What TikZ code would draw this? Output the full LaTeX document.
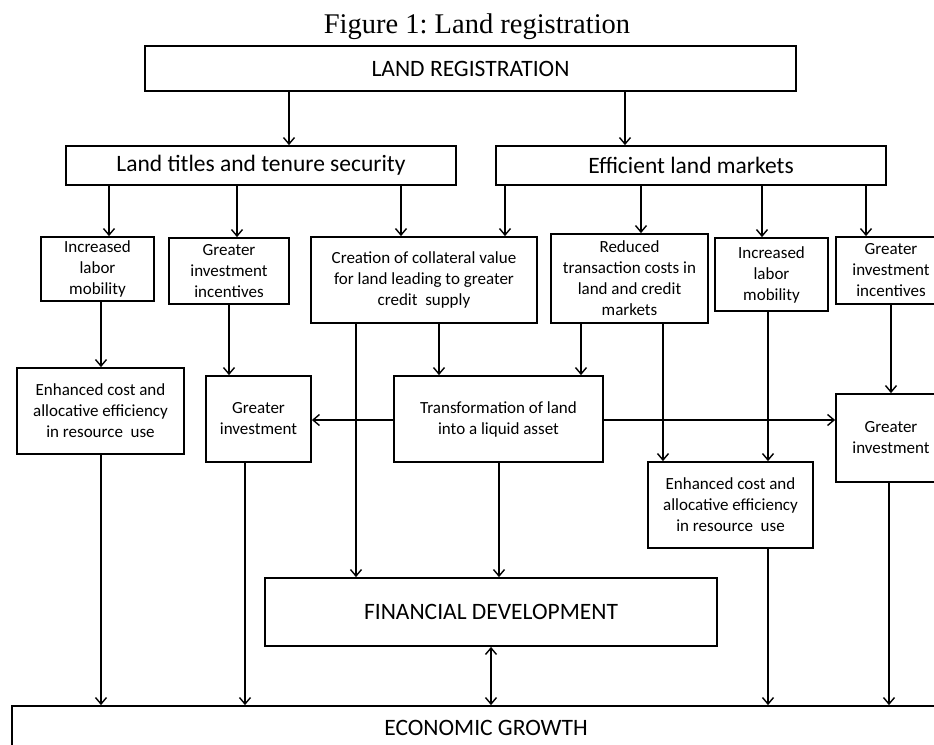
\documentclass[tikz,border=0pt]{standalone}
\usepackage{fontspec}
\setmainfont{Carlito}
\newfontfamily\titlefont{Liberation Serif}
\usetikzlibrary{arrows.meta}
\frenchspacing
\begin{document}
\begin{tikzpicture}[x=1pt,y=-1pt,
  box/.style={draw,line width=1.8pt,inner sep=0pt,align=center,
    font=\fontsize{17}{21}\selectfont},
  bigbox/.style={box,font=\fontsize{23.5}{28}\selectfont},
  arr/.style={line width=1.4pt,-{Straight Barb[length=6.5pt,width=11pt,line width=1.4pt]}},
  darr/.style={line width=1.4pt,{Straight Barb[length=6.5pt,width=11pt,line width=1.4pt]}-{Straight Barb[length=6.5pt,width=11pt,line width=1.4pt]}}]
\useasboundingbox (0,0) rectangle (934,744);
\clip (0,0) rectangle (934,744);
\fill[white] (0,0) rectangle (934,744);
\node[font=\titlefont\fontsize{28.5}{32}\selectfont] (title) at (477,27) {Figure 1: Land registration};
\node[bigbox,minimum width=651pt,minimum height=45pt] (lr) at (470.5,68.5) {LAND REGISTRATION};
\node[bigbox,minimum width=390pt,minimum height=39pt] (lt) at (261,165.5) {Land titles and tenure security};
\node[bigbox,minimum width=390pt,minimum height=39pt] (elm) at (691,165.5) {Efficient land markets};
\node[box,minimum width=113pt,minimum height=64pt] (ilm1) at (97.5,269) {Increased\\labor\\mobility};
\node[box,minimum width=120pt,minimum height=66pt] (gii1) at (229,271) {Greater\\investment\\incentives};
\node[box,minimum width=226pt,minimum height=86pt] (ccv) at (424,280) {Creation of collateral value\\for land leading to greater\\credit~ supply};
\node[box,minimum width=157pt,minimum height=89pt] (rtc) at (629.5,278.5) {Reduced\\transaction costs in\\land and credit\\markets};
\node[box,minimum width=113pt,minimum height=73pt] (ilm2) at (771.5,274.5) {Increased\\labor\\mobility};
\node[box,minimum width=110pt,minimum height=67pt] (gii2) at (891,270.5) {Greater\\investment\\incentives};
\node[box,minimum width=167pt,minimum height=86pt] (ec1) at (100.5,411) {Enhanced cost and\\allocative efficiency\\in resource~ use};
\node[box,minimum width=105pt,minimum height=86pt] (gi1) at (258.5,419) {Greater\\investment};
\node[box,minimum width=209pt,minimum height=86pt] (tla) at (498.5,419) {Transformation of land\\into a liquid asset};
\node[box,minimum width=110pt,minimum height=88pt] (gi2) at (891,438) {Greater\\investment};
\node[box,minimum width=165pt,minimum height=86pt] (ec2) at (730.5,505) {Enhanced cost and\\allocative efficiency\\in resource~ use};
\node[bigbox,minimum width=452pt,minimum height=68pt] (fd) at (491,612) {FINANCIAL DEVELOPMENT};
\node[bigbox,minimum width=948pt,minimum height=44pt] (eg) at (486,728) {ECONOMIC GROWTH};
% level 1 -> 2
\draw[arr] (289,0 |- lr.south) -- (289,0 |- lt.north);
\draw[arr] (625,0 |- lr.south) -- (625,0 |- elm.north);
% level 2 -> 3
\draw[arr] (109,0 |- lt.south) -- (109,0 |- ilm1.north);
\draw[arr] (237,0 |- lt.south) -- (237,0 |- gii1.north);
\draw[arr] (401,0 |- lt.south) -- (401,0 |- ccv.north);
\draw[arr] (505,0 |- elm.south) -- (505,0 |- ccv.north);
\draw[arr] (641,0 |- elm.south) -- (641,0 |- rtc.north);
\draw[arr] (762,0 |- elm.south) -- (762,0 |- ilm2.north);
\draw[arr] (866,0 |- elm.south) -- (866,0 |- gii2.north);
% level 3 -> 4
\draw[arr] (101,0 |- ilm1.south) -- (101,0 |- ec1.north);
\draw[arr] (229,0 |- gii1.south) -- (229,0 |- gi1.north);
\draw[arr] (439,0 |- ccv.south) -- (439,0 |- tla.north);
\draw[arr] (581,0 |- rtc.south) -- (581,0 |- tla.north);
\draw[arr] (663,0 |- rtc.south) -- (663,0 |- ec2.north);
\draw[arr] (768,0 |- ilm2.south) -- (768,0 |- ec2.north);
\draw[arr] (891,0 |- gii2.south) -- (891,0 |- gi2.north);
% transformation sideways
\draw[arr] (tla.west |- 0,420) -- (gi1.east |- 0,420);
\draw[arr] (tla.east |- 0,420) -- (gi2.west |- 0,420);
% to financial development
\draw[arr] (356,0 |- ccv.south) -- (356,0 |- fd.north);
\draw[arr] (499,0 |- tla.south) -- (499,0 |- fd.north);
% to economic growth
\draw[arr] (101,0 |- ec1.south) -- (101,0 |- eg.north);
\draw[arr] (245,0 |- gi1.south) -- (245,0 |- eg.north);
\draw[darr] (491,0 |- fd.south) -- (491,0 |- eg.north);
\draw[arr] (768,0 |- ec2.south) -- (768,0 |- eg.north);
\draw[arr] (889,0 |- gi2.south) -- (889,0 |- eg.north);
\end{tikzpicture}
\end{document}
